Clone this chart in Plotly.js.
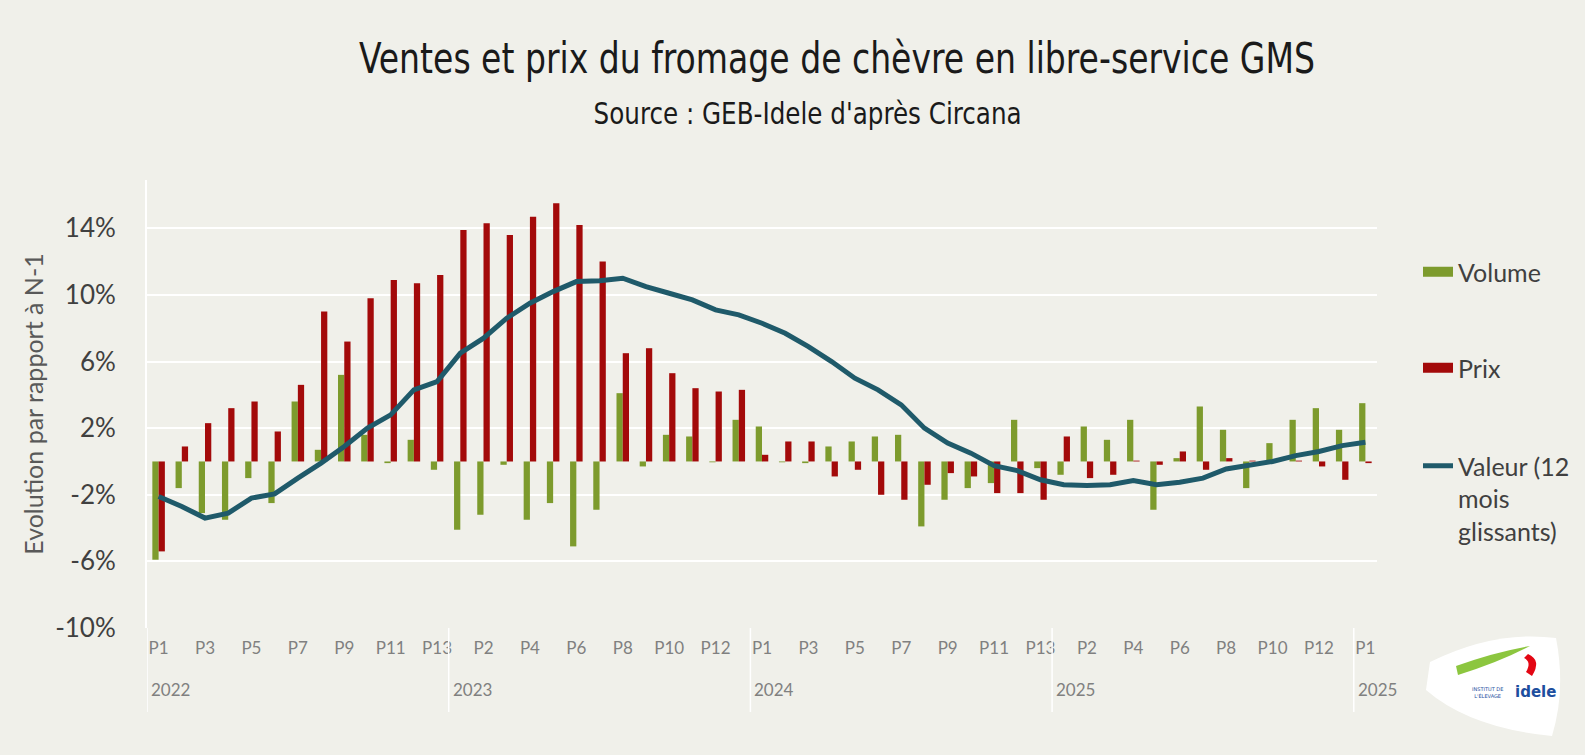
<!DOCTYPE html>
<html><head><meta charset="utf-8">
<script src="https://cdn.plot.ly/plotly-3.0.1.min.js"></script>
<style>html,body{margin:0;padding:0;background:#f0f0ea}#chart{width:1585px;height:755px}</style>
</head><body><div id="chart"></div>
<script>
// ---- data ----
const groupYears = ['2022', '2023', '2024', '2025', '2025'];
const groupSizes = [13, 13, 13, 13, 1];
const volume = [-5.9, -1.6, -3.1, -3.5, -1.0, -2.5, 3.6, 0.7, 5.2, 1.6, -0.1, 1.3, -0.5,
  -4.1, -3.2, -0.2, -3.5, -2.5, -5.1, -2.9, 4.1, -0.3, 1.6, 1.5, -0.05, 2.5,
  2.1, -0.05, -0.1, 0.9, 1.2, 1.5, 1.6, -3.9, -2.3, -1.6, -1.3, 2.5, -0.4,
  -0.8, 2.1, 1.3, 2.5, -2.9, 0.2, 3.3, 1.9, -1.6, 1.1, 2.5, 3.2, 1.9,
  3.5];
const prix = [-5.4, 0.9, 2.3, 3.2, 3.6, 1.8, 4.6, 9.0, 7.2, 9.8, 10.9, 10.7, 11.2,
  13.9, 14.3, 13.6, 14.7, 15.5, 14.2, 12.0, 6.5, 6.8, 5.3, 4.4, 4.2, 4.3,
  0.4, 1.2, 1.2, -0.9, -0.5, -2.0, -2.3, -1.4, -0.7, -0.9, -1.9, -1.9, -2.3,
  1.5, -1.0, -0.8, 0.05, -0.2, 0.6, -0.5, 0.2, 0.05, 0.05, 0.05, -0.3, -1.1,
  -0.1];
const valeur = [-2.1, -2.7, -3.4, -3.1, -2.2, -1.95, -1.0, -0.1, 0.9, 2.0, 2.8, 4.3, 4.8,
  6.5, 7.4, 8.6, 9.5, 10.2, 10.8, 10.85, 11.0, 10.5, 10.1, 9.7, 9.1, 8.8,
  8.3, 7.7, 6.9, 6.0, 5.0, 4.3, 3.4, 2.0, 1.1, 0.5, -0.25, -0.55, -1.1,
  -1.4, -1.45, -1.4, -1.15, -1.4, -1.25, -1.0, -0.45, -0.2, 0.0, 0.35, 0.6, 0.95,
  1.15];
const yTickVals = [-10, -6, -2, 2, 6, 10, 14];
const yTickText = ['-10%', '-6%', '-2%', '2%', '6%', '10%', '14%'];

// ---- categories ----
const categories = [], periodLabels = [], groupStart = [];
groupYears.forEach((yr, g) => {
  groupStart.push(categories.length);
  for (let k = 0; k < groupSizes[g]; k++) {
    categories.push(g + ' ' + yr + ' P' + (k + 1));
    periodLabels.push('P' + (k + 1));
  }
});
const tickVals = categories.filter((c, i) => i % 2 === 0);
const tickText = periodLabels.filter((c, i) => i % 2 === 0);

// ---- geometry helpers (pixel -> paper) ----
const L = 147, R = 208, T = 180, B = 127, W = 1585, H = 755;
const pw = W - L - R, ph = H - T - B;
const px = x => (x - L) / pw;
const py = y => (H - B - y) / ph;

const GREEN = '#7d9b2d', RED = '#a30a0a', TEAL = '#1f5a6a';
const FONT = 'Lato, "Open Sans", sans-serif';
const NARROW = '"Liberation Sans Narrow", "DejaVu Sans Condensed", Roboto, sans-serif';

const traces = [
  {type: 'bar', x: categories, y: volume, name: 'Volume', marker: {color: GREEN}, showlegend: false, hoverinfo: 'x+y'},
  {type: 'bar', x: categories, y: prix, name: 'Prix', marker: {color: RED}, showlegend: false, hoverinfo: 'x+y'},
  {type: 'scatter', mode: 'lines', x: categories, y: valeur, name: 'Valeur (12<br>mois<br>glissants)',
   line: {color: TEAL, width: 5}, legend: 'legend3'},
  // legend entries
  {type: 'scatter', mode: 'lines', x: [null], y: [null], name: 'Volume', line: {color: GREEN, width: 16}, legend: 'legend', hoverinfo: 'skip'},
  {type: 'scatter', mode: 'lines', x: [null], y: [null], name: 'Prix', line: {color: RED, width: 16}, legend: 'legend2', hoverinfo: 'skip'}
];

const legendBase = {xref: 'container', yref: 'container', x: 1418 / W, xanchor: 'left', bgcolor: 'rgba(0,0,0,0)',
  font: {family: FONT, size: 25, color: '#404040'}, itemwidth: 30, valign: 'top'};

const shapes = [];
const annotations = [];
groupStart.forEach((s, g) => {
  shapes.push({type: 'line', xref: 'x', yref: 'paper', x0: s - 0.5, x1: s - 0.5, y0: 0, y1: py(712),
    line: {color: '#ffffff', width: 1.5}});
  annotations.push({xref: 'x', yref: 'paper', x: s - 0.5, y: py(689), xanchor: 'left', yanchor: 'middle',
    xshift: 2, text: groupYears[g], showarrow: false, font: {family: FONT, size: 17, color: '#808080'}});
});

annotations.push({xref: 'paper', yref: 'paper', x: px(807), y: py(114), xanchor: 'center', yanchor: 'middle',
  text: 'Source : GEB-Idele d\'après Circana', showarrow: false, font: {family: NARROW, size: 30, color: '#1a1a1a'}});

// logo (decorative)
shapes.push({type: 'path', xref: 'paper', yref: 'paper', layer: 'above',
  path: `M ${px(1430)} ${py(662)} Q ${px(1495)} ${py(630)} ${px(1556)} ${py(638)} Q ${px(1566)} ${py(690)} ${px(1552)} ${py(736)} Q ${px(1470)} ${py(728)} ${px(1426)} ${py(690)} Z`,
  fillcolor: '#ffffff', line: {width: 0}});
shapes.push({type: 'path', xref: 'paper', yref: 'paper', layer: 'above',
  path: `M ${px(1456)} ${py(666)} Q ${px(1495)} ${py(652)} ${px(1530)} ${py(646)} Q ${px(1500)} ${py(662)} ${px(1458)} ${py(675)} Z`,
  fillcolor: '#8cc63f', line: {width: 0}});
shapes.push({type: 'path', xref: 'paper', yref: 'paper', layer: 'above',
  path: `M ${px(1528)} ${py(654)} Q ${px(1542)} ${py(660)} ${px(1532)} ${py(676)} L ${px(1526)} ${py(672)} Q ${px(1532)} ${py(662)} ${px(1524)} ${py(658)} Z`,
  fillcolor: '#e30613', line: {width: 0}});
annotations.push({xref: 'paper', yref: 'paper', x: px(1535), y: py(692), xanchor: 'center', yanchor: 'middle',
  text: '<b>idele</b>', showarrow: false, font: {family: 'DejaVu Sans, sans-serif', size: 15, color: '#1d4e9e'}});
annotations.push({xref: 'paper', yref: 'paper', x: px(1487), y: py(692), xanchor: 'center', yanchor: 'middle',
  text: 'INSTITUT DE<br>L\'ÉLEVAGE', showarrow: false, font: {family: 'DejaVu Sans, sans-serif', size: 5, color: '#1d4e9e'}});

const layout = {
  width: W, height: H,
  margin: {l: L, r: R, t: T, b: B, pad: 0},
  paper_bgcolor: '#f0f0ea', plot_bgcolor: '#f0f0ea',
  title: {text: 'Ventes et prix du fromage de chèvre en libre-service GMS', xref: 'container', yref: 'container',
    x: 837 / W, xanchor: 'center', y: 1 - 58 / H, yanchor: 'middle',
    font: {family: NARROW, size: 42, color: '#1a1a1a'}},
  barmode: 'group', bargap: 0.46, bargroupgap: 0,
  showlegend: true,
  legend: Object.assign({}, legendBase, {y: 1 - 272 / H, yanchor: 'middle'}),
  legend2: Object.assign({}, legendBase, {y: 1 - 368 / H, yanchor: 'middle'}),
  legend3: Object.assign({}, legendBase, {y: 1 - 443 / H, yanchor: 'top'}),
  xaxis: {type: 'category', categoryorder: 'array', categoryarray: categories,
    tickmode: 'array', tickvals: tickVals, ticktext: tickText, ticks: '', ticklabelstandoff: 8,
    tickfont: {family: FONT, size: 17, color: '#808080'}, showgrid: false, zeroline: false, showline: false,
    range: [-0.5, categories.length - 0.5], fixedrange: true},
  yaxis: {range: [-10, 16.9], tickmode: 'array', tickvals: yTickVals, ticktext: yTickText, ticks: '',
    ticklabelstandoff: 24, tickfont: {family: FONT, size: 26, color: '#404040'},
    showgrid: true, gridcolor: '#ffffff', gridwidth: 2, zeroline: false,
    showline: true, linecolor: '#ffffff', linewidth: 2,
    title: {text: 'Evolution par rapport à N-1', font: {family: FONT, size: 25, color: '#595959'}, standoff: 4},
    automargin: false, fixedrange: true},
  shapes: shapes, annotations: annotations
};

Plotly.newPlot('chart', traces, layout, {displayModeBar: false, staticPlot: true}).then(gd => {
  // condense the title texts to the reference's narrow width
  const t = gd.querySelector('.gtitle');
  if (t) { t.setAttribute('textLength', 956); t.setAttribute('lengthAdjust', 'spacingAndGlyphs'); }
  gd.querySelectorAll('.annotation-text').forEach(el => {
    if (el.textContent.indexOf('Source') === 0) {
      el.setAttribute('textLength', 428); el.setAttribute('lengthAdjust', 'spacingAndGlyphs');
    }
  });
});
</script></body></html>
